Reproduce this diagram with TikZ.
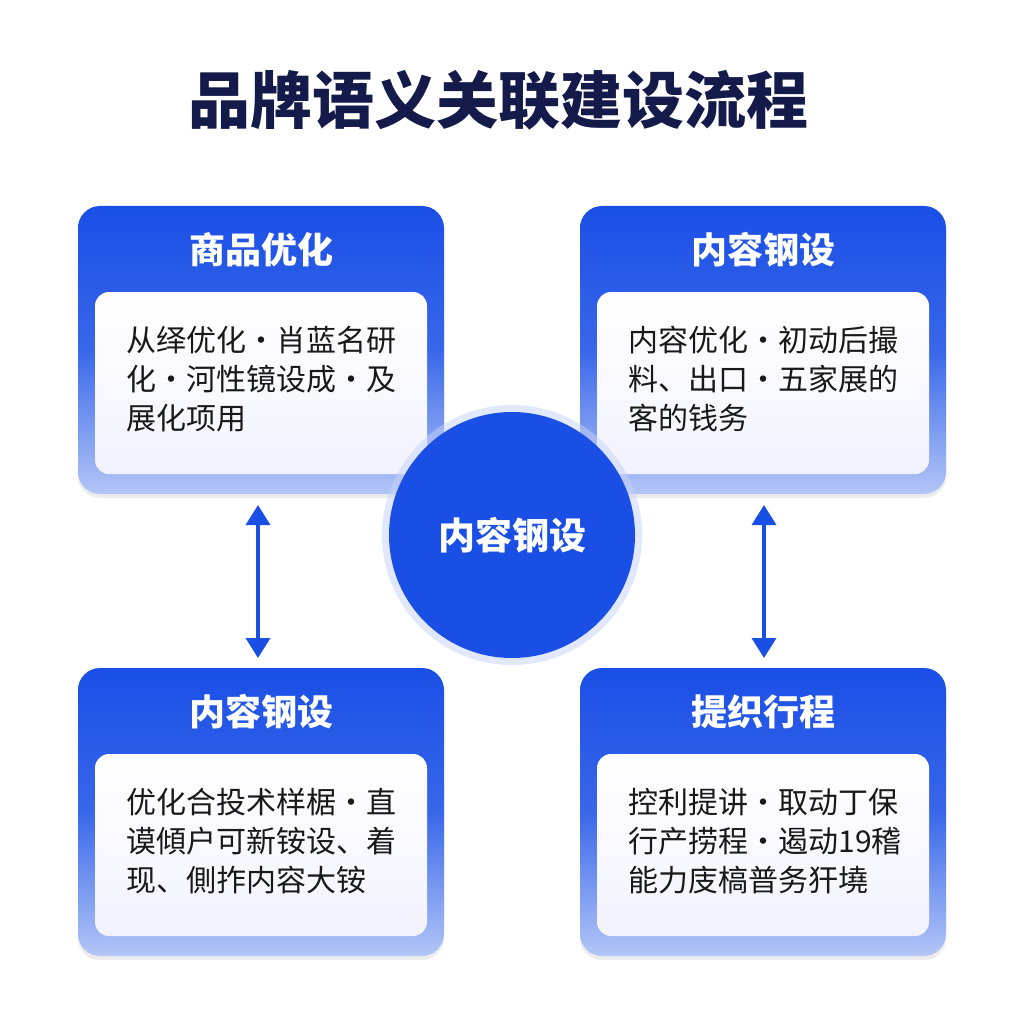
\documentclass[tikz,border=0pt]{standalone}
\usepackage{fontspec}
\setmainfont{Noto Sans CJK SC}
\usetikzlibrary{arrows.meta,shadows}
\definecolor{bl}{HTML}{1A4FE6}
\definecolor{lb}{HTML}{B3C6F7}
\definecolor{nv}{HTML}{141A4A}
\begin{document}
\begin{tikzpicture}[x=1pt,y=-1pt,
 outer/.style={rounded corners=22pt,top color=bl,bottom color=lb,middle color=bl!80!lb,shading angle=0,draw=none},
 inner/.style={rounded corners=14pt,top color=white,bottom color=blue!5!white,draw=none},
 head/.style={text=white,font=\fontsize{36}{36}\selectfont\bfseries},
 body/.style={anchor=north west,align=left,text=black!90,font=\fontsize{30}{39}\selectfont},
 arr/.style={draw=bl,line width=3.5pt,{Triangle[length=20pt,width=24pt]}-{Triangle[length=20pt,width=24pt]}}]
\useasboundingbox[fill=white] (0,0) rectangle (1024,1024);
\node (title) at (498,100) [text=nv,font=\fontsize{62}{62}\selectfont\bfseries] {品牌语义关联建设流程};
\foreach \n/\x/\y/\h in {a/78/206/商品优化,b/580/206/内容钢设,c/78/668/内容钢设,d/580/668/提织行程}{
  \path[outer,drop shadow={opacity=0.15,shadow xshift=0pt,shadow yshift=-4pt}] (\x,\y) rectangle ++(366,288);
  \node (\n h) at (\x+183,\y+44) [head] {\h};
  \path[inner] (\x+17,\y+86) rectangle ++(332,182);
  \coordinate (\n t) at (\x+45,\y+117);
}
\node (at) at (at) [body] {从绎优化·肖蓝名研\\化·河性镜设成·及\\展化项用};
\node (bt) at (bt) [body] {内容优化·初动后撮\\料、出口·五家展的\\客的钱务};
\node (ct) at (ct) [body] {优化合投术样椐·直\\谟傾户可新铵设、着\\现、側拃内容大铵};
\node (dt) at (dt) [body] {控利提讲·取动丁保\\行产捞程·遏动19稽\\能力庋槁普务犴墝};
\fill[bl!25,opacity=0.5] (512,535) circle (130);
\node (c0) at (512,535) [circle,minimum size=246pt,inner sep=0,fill=bl,text=white,font=\fontsize{37}{37}\selectfont\bfseries] {内容钢设};
\coordinate (a1) at (258,505); \coordinate (a2) at (258,658);
\coordinate (b1) at (764,505); \coordinate (b2) at (764,658);
\draw[arr] (a1) -- (a2);
\draw[arr] (b1) -- (b2);
\end{tikzpicture}
\end{document}
